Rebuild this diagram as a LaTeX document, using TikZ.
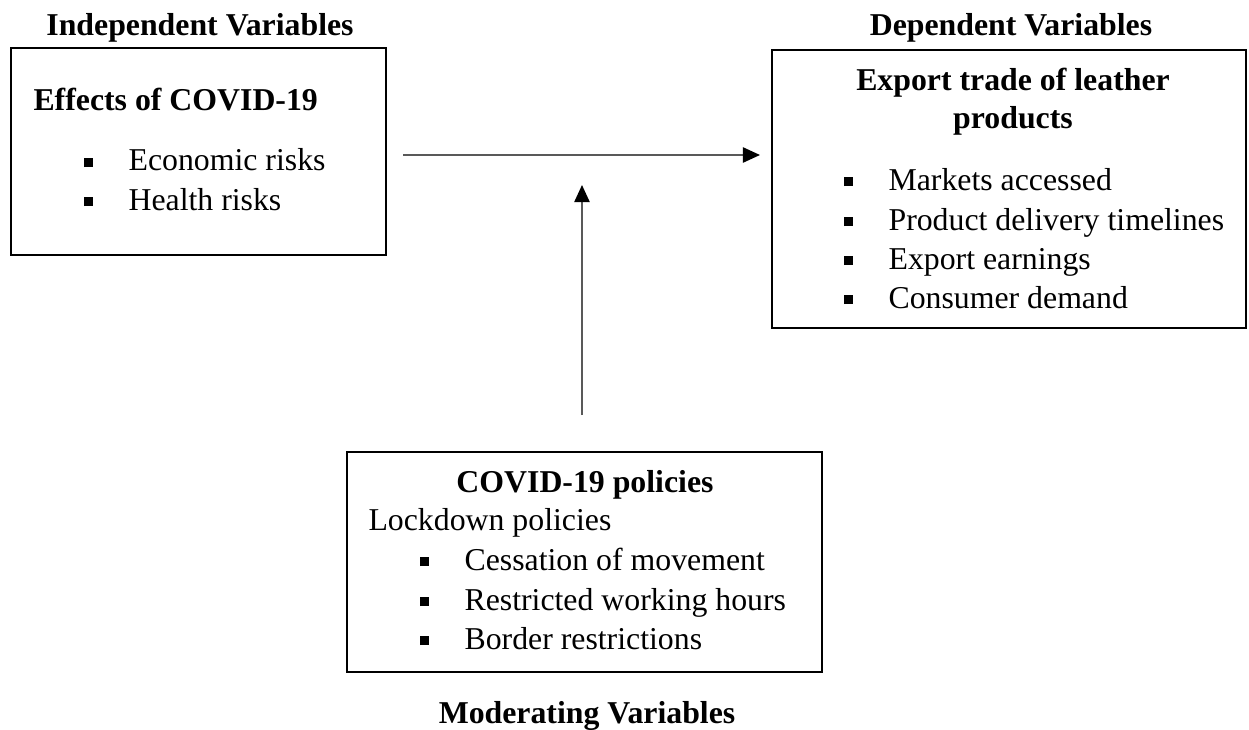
\documentclass[tikz,border=0pt]{standalone}
\usepackage{fontspec}
\setmainfont{Liberation Serif}
\usepackage{tikz}
\usetikzlibrary{arrows.meta, positioning}
\newcommand{\px}{0.3774pt}
\tikzstyle{box} = [draw, rectangle, line width=0.5pt, inner sep=0pt]
\tikzstyle{head} = [font=\fontsize{12pt}{14pt}\selectfont\bfseries, inner sep=0pt, anchor=base]
\tikzstyle{item} = [font=\fontsize{12pt}{14pt}\selectfont, inner sep=0pt, anchor=base west]
\tikzstyle{flow} = [-{Triangle[length=6.5pt, width=5.8pt, black]}, line width=0.65pt, draw={rgb,255:red,89;green,89;blue,89}]
\newcommand{\sqb}{\makebox[17pt][l]{\rule[1.5pt]{3.4pt}{3.4pt}}}

\begin{document}
\begin{tikzpicture}[x=\px, y=-\px]

    \useasboundingbox (0,0) rectangle (1249,730);

    % independent side
    \node [box, line width=1pt, minimum width=375*\px, minimum height=207*\px] (indep) at (198.5,151.5) {};
    \node [head] (indeplabel) at (200,35) {Independent Variables};
    \node [head, anchor=base west] (indeptitle) at (33,110) {Effects of COVID-19};
    \node [item] (econ) at (83,171) {\sqb Economic risks};
    \node [item] (health) at (83,210) {\sqb Health risks};

    % dependent side
    \node [box, minimum width=474*\px, minimum height=278*\px] (dep) at (1009,189) {};
    \node [head] (deplabel) at (1011,35) {Dependent Variables};
    \node [head] (deptitle) at (1013,90) {Export trade of leather};
    \node [head] (deptitle2) at (1013,128) {products};
    \node [item] (markets) at (843,190) {\sqb Markets accessed};
    \node [item] (delivery) at (843,230) {\sqb Product delivery timelines};
    \node [item] (earnings) at (843,269) {\sqb Export earnings};
    \node [item] (demand) at (843,308) {\sqb Consumer demand};

    % moderating
    \node [box, minimum width=475*\px, minimum height=220*\px] (mod) at (584.5,562) {};
    \node [head] (modtitle) at (585,492) {COVID-19 policies};
    \node [item] (lockdown) at (368,530) {Lockdown policies};
    \node [item] (cessation) at (419,570) {\sqb Cessation of movement};
    \node [item] (hours) at (419,610) {\sqb Restricted working hours};
    \node [item] (border) at (419,649) {\sqb Border restrictions};
    \node [head] (modlabel) at (587,723) {Moderating Variables};

    % arrows
    \coordinate (hs) at (403,155);
    \coordinate (he) at (760,155);
    \coordinate (vs) at (582,415);
    \coordinate (ve) at (582,185);
    \draw [flow] (hs) -- (he);
    \draw [flow] (vs) -- (ve);

\end{tikzpicture}
\end{document}
